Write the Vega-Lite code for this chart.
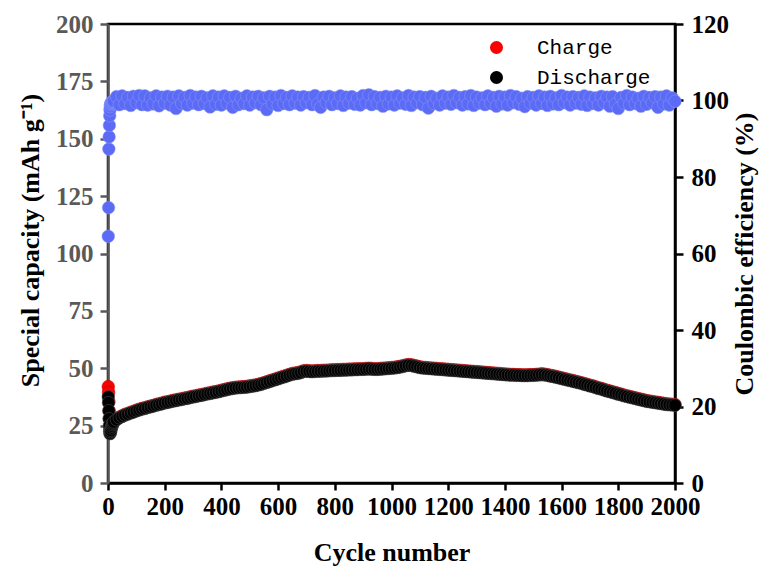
{
"$schema": "https://vega.github.io/schema/vega-lite/v6.json",
"width": 567, "height": 459,
"autosize": "none",
"padding": {"left": 108, "top": 24, "right": 93, "bottom": 87},
"background": "white",
"config": {"view": {"stroke": "black", "strokeWidth": 2.5}, "font": "Liberation Serif"},
"data": {"values": [
{"c":1,"ch":42.0,"d":37.5,"ce":64.5},
{"c":2,"ch":39.5,"d":35.0,"ce":72.0},
{"c":3,"ch":35.5,"d":31.5,"ce":87.3},
{"c":4,"ch":31.5,"d":28.0,"ce":90.5},
{"c":5,"ch":28.0,"d":25.0,"ce":93.5},
{"c":6,"ch":25.0,"d":22.5,"ce":96.0},
{"c":7,"ch":23.5,"d":21.5,"ce":97.5},
{"c":8,"ch":23.0,"d":21.8,"ce":98.4},
{"c":9,"ch":23.2,"d":22.4,"ce":98.9},
{"c":10,"ch":23.6,"d":23.0,"ce":99.2},
{"c":12,"ch":24.4,"d":24.0,"ce":99.4},
{"c":14,"ch":25.2,"d":24.8,"ce":99.6},
{"c":16,"ch":25.9,"d":25.5,"ce":99.7},
{"c":18,"ch":26.4,"d":26.1,"ce":99.8},
{"c":20,"ch":26.9,"d":26.6,"ce":99.8},
{"c":30,"ch":27.9,"d":27.6,"ce":101.0},
{"c":40,"ch":28.7,"d":28.4,"ce":98.9},
{"c":50,"ch":29.3,"d":29.0,"ce":101.2},
{"c":60,"ch":29.9,"d":29.6,"ce":99.2},
{"c":70,"ch":30.3,"d":30.0,"ce":100.8},
{"c":80,"ch":30.8,"d":30.5,"ce":98.7},
{"c":90,"ch":31.2,"d":30.9,"ce":101.1},
{"c":100,"ch":31.7,"d":31.4,"ce":99.4},
{"c":110,"ch":32.1,"d":31.8,"ce":101.3},
{"c":120,"ch":32.5,"d":32.2,"ce":98.9},
{"c":130,"ch":32.8,"d":32.5,"ce":101.2},
{"c":140,"ch":33.2,"d":32.9,"ce":98.8},
{"c":150,"ch":33.5,"d":33.2,"ce":100.7},
{"c":160,"ch":33.8,"d":33.5,"ce":99.1},
{"c":170,"ch":34.2,"d":33.9,"ce":101.2},
{"c":180,"ch":34.5,"d":34.2,"ce":98.6},
{"c":190,"ch":34.8,"d":34.5,"ce":100.9},
{"c":200,"ch":35.2,"d":34.9,"ce":99.3},
{"c":210,"ch":35.4,"d":35.1,"ce":101.1},
{"c":220,"ch":35.7,"d":35.4,"ce":98.8},
{"c":230,"ch":36.0,"d":35.7,"ce":100.9},
{"c":240,"ch":36.2,"d":35.9,"ce":97.9},
{"c":250,"ch":36.5,"d":36.2,"ce":101.2},
{"c":260,"ch":36.7,"d":36.4,"ce":99.2},
{"c":270,"ch":37.0,"d":36.7,"ce":100.8},
{"c":280,"ch":37.2,"d":36.9,"ce":98.8},
{"c":290,"ch":37.5,"d":37.2,"ce":101.3},
{"c":300,"ch":37.8,"d":37.5,"ce":99.3},
{"c":310,"ch":38.0,"d":37.7,"ce":100.9},
{"c":320,"ch":38.3,"d":38.0,"ce":98.9},
{"c":330,"ch":38.5,"d":38.2,"ce":101.1},
{"c":340,"ch":38.8,"d":38.5,"ce":99.2},
{"c":350,"ch":39.1,"d":38.8,"ce":100.7},
{"c":360,"ch":39.3,"d":39.0,"ce":98.3},
{"c":370,"ch":39.6,"d":39.3,"ce":101.2},
{"c":380,"ch":39.8,"d":39.5,"ce":99.0},
{"c":390,"ch":40.1,"d":39.8,"ce":100.9},
{"c":400,"ch":40.4,"d":40.1,"ce":98.8},
{"c":410,"ch":40.7,"d":40.4,"ce":101.2},
{"c":420,"ch":41.0,"d":40.7,"ce":99.3},
{"c":430,"ch":41.3,"d":41.0,"ce":100.8},
{"c":440,"ch":41.5,"d":41.2,"ce":98.2},
{"c":450,"ch":41.7,"d":41.4,"ce":101.1},
{"c":460,"ch":41.8,"d":41.5,"ce":98.9},
{"c":470,"ch":41.9,"d":41.6,"ce":100.6},
{"c":480,"ch":42.0,"d":41.7,"ce":99.2},
{"c":490,"ch":42.1,"d":41.8,"ce":101.2},
{"c":500,"ch":42.3,"d":42.0,"ce":98.8},
{"c":510,"ch":42.5,"d":42.2,"ce":100.9},
{"c":520,"ch":42.7,"d":42.4,"ce":99.4},
{"c":530,"ch":43.0,"d":42.7,"ce":101.1},
{"c":540,"ch":43.3,"d":43.0,"ce":98.9},
{"c":550,"ch":43.7,"d":43.4,"ce":100.7},
{"c":560,"ch":44.1,"d":43.8,"ce":97.6},
{"c":570,"ch":44.5,"d":44.2,"ce":101.1},
{"c":580,"ch":44.9,"d":44.6,"ce":99.1},
{"c":590,"ch":45.3,"d":45.0,"ce":100.9},
{"c":600,"ch":45.7,"d":45.4,"ce":98.7},
{"c":610,"ch":46.1,"d":45.8,"ce":101.3},
{"c":620,"ch":46.5,"d":46.2,"ce":99.2},
{"c":630,"ch":46.9,"d":46.6,"ce":100.8},
{"c":640,"ch":47.3,"d":47.0,"ce":98.9},
{"c":650,"ch":47.7,"d":47.4,"ce":101.2},
{"c":660,"ch":47.9,"d":47.6,"ce":99.3},
{"c":670,"ch":48.1,"d":47.8,"ce":100.9},
{"c":680,"ch":48.4,"d":48.1,"ce":98.8},
{"c":690,"ch":48.9,"d":48.6,"ce":101.0},
{"c":700,"ch":49.0,"d":48.7,"ce":99.4},
{"c":710,"ch":48.9,"d":48.6,"ce":100.8},
{"c":720,"ch":48.8,"d":48.5,"ce":98.9},
{"c":730,"ch":48.9,"d":48.6,"ce":101.3},
{"c":740,"ch":49.0,"d":48.7,"ce":99.1},
{"c":750,"ch":49.0,"d":48.7,"ce":98.2},
{"c":760,"ch":49.1,"d":48.8,"ce":100.9},
{"c":770,"ch":49.1,"d":48.8,"ce":99.5},
{"c":780,"ch":49.2,"d":48.9,"ce":101.1},
{"c":790,"ch":49.3,"d":49.0,"ce":98.9},
{"c":800,"ch":49.3,"d":49.0,"ce":100.7},
{"c":810,"ch":49.4,"d":49.1,"ce":99.2},
{"c":820,"ch":49.4,"d":49.1,"ce":101.2},
{"c":830,"ch":49.5,"d":49.2,"ce":98.7},
{"c":840,"ch":49.5,"d":49.2,"ce":100.9},
{"c":850,"ch":49.6,"d":49.3,"ce":99.3},
{"c":860,"ch":49.6,"d":49.3,"ce":101.0},
{"c":870,"ch":49.7,"d":49.4,"ce":99.0},
{"c":880,"ch":49.7,"d":49.4,"ce":100.6},
{"c":890,"ch":49.8,"d":49.5,"ce":98.8},
{"c":900,"ch":49.8,"d":49.5,"ce":101.3},
{"c":910,"ch":49.9,"d":49.6,"ce":99.4},
{"c":920,"ch":50.0,"d":49.7,"ce":101.5},
{"c":930,"ch":49.9,"d":49.6,"ce":98.9},
{"c":940,"ch":49.8,"d":49.5,"ce":101.0},
{"c":950,"ch":49.8,"d":49.5,"ce":99.2},
{"c":960,"ch":49.9,"d":49.6,"ce":100.8},
{"c":970,"ch":50.0,"d":49.7,"ce":98.5},
{"c":980,"ch":50.1,"d":49.8,"ce":101.1},
{"c":990,"ch":50.2,"d":49.9,"ce":99.1},
{"c":1000,"ch":50.3,"d":50.0,"ce":100.9},
{"c":1010,"ch":50.4,"d":50.1,"ce":98.8},
{"c":1020,"ch":50.6,"d":50.3,"ce":101.2},
{"c":1030,"ch":50.8,"d":50.5,"ce":99.3},
{"c":1040,"ch":51.1,"d":50.8,"ce":100.7},
{"c":1050,"ch":51.4,"d":51.1,"ce":99.0},
{"c":1060,"ch":51.6,"d":51.3,"ce":101.3},
{"c":1070,"ch":51.5,"d":51.2,"ce":98.7},
{"c":1080,"ch":51.2,"d":50.9,"ce":100.9},
{"c":1090,"ch":50.9,"d":50.6,"ce":99.4},
{"c":1100,"ch":50.6,"d":50.3,"ce":101.0},
{"c":1110,"ch":50.4,"d":50.1,"ce":98.9},
{"c":1120,"ch":50.3,"d":50.0,"ce":100.8},
{"c":1130,"ch":50.2,"d":49.9,"ce":98.0},
{"c":1140,"ch":50.1,"d":49.8,"ce":101.1},
{"c":1150,"ch":50.0,"d":49.7,"ce":99.2},
{"c":1160,"ch":49.9,"d":49.6,"ce":100.6},
{"c":1170,"ch":49.8,"d":49.5,"ce":98.8},
{"c":1180,"ch":49.7,"d":49.4,"ce":101.2},
{"c":1190,"ch":49.6,"d":49.3,"ce":99.3},
{"c":1200,"ch":49.5,"d":49.2,"ce":100.9},
{"c":1210,"ch":49.4,"d":49.1,"ce":99.0},
{"c":1220,"ch":49.3,"d":49.0,"ce":101.3},
{"c":1230,"ch":49.2,"d":48.9,"ce":99.4},
{"c":1240,"ch":49.1,"d":48.8,"ce":100.8},
{"c":1250,"ch":49.0,"d":48.7,"ce":98.8},
{"c":1260,"ch":48.9,"d":48.6,"ce":101.0},
{"c":1270,"ch":48.8,"d":48.5,"ce":99.1},
{"c":1280,"ch":48.7,"d":48.4,"ce":101.3},
{"c":1290,"ch":48.6,"d":48.3,"ce":98.7},
{"c":1300,"ch":48.5,"d":48.2,"ce":100.9},
{"c":1310,"ch":48.4,"d":48.1,"ce":99.3},
{"c":1320,"ch":48.3,"d":48.0,"ce":100.7},
{"c":1330,"ch":48.2,"d":47.9,"ce":98.9},
{"c":1340,"ch":48.1,"d":47.8,"ce":101.2},
{"c":1350,"ch":48.0,"d":47.7,"ce":99.2},
{"c":1360,"ch":47.9,"d":47.6,"ce":100.8},
{"c":1370,"ch":47.8,"d":47.5,"ce":98.5},
{"c":1380,"ch":47.7,"d":47.4,"ce":101.1},
{"c":1390,"ch":47.6,"d":47.3,"ce":99.1},
{"c":1400,"ch":47.5,"d":47.2,"ce":100.9},
{"c":1410,"ch":47.4,"d":47.1,"ce":98.8},
{"c":1420,"ch":47.3,"d":47.0,"ce":101.3},
{"c":1430,"ch":47.3,"d":47.0,"ce":99.4},
{"c":1440,"ch":47.2,"d":46.9,"ce":101.0},
{"c":1450,"ch":47.2,"d":46.9,"ce":99.0},
{"c":1460,"ch":47.1,"d":46.8,"ce":100.6},
{"c":1470,"ch":47.1,"d":46.8,"ce":98.4},
{"c":1480,"ch":47.1,"d":46.8,"ce":101.0},
{"c":1490,"ch":47.2,"d":46.9,"ce":99.3},
{"c":1500,"ch":47.2,"d":46.9,"ce":100.8},
{"c":1510,"ch":47.3,"d":47.0,"ce":98.8},
{"c":1520,"ch":47.4,"d":47.1,"ce":101.2},
{"c":1530,"ch":47.6,"d":47.2,"ce":99.2},
{"c":1540,"ch":47.4,"d":47.1,"ce":100.9},
{"c":1550,"ch":47.2,"d":46.9,"ce":98.7},
{"c":1560,"ch":46.9,"d":46.6,"ce":101.1},
{"c":1570,"ch":46.7,"d":46.4,"ce":99.1},
{"c":1580,"ch":46.4,"d":46.1,"ce":100.7},
{"c":1590,"ch":46.1,"d":45.8,"ce":98.9},
{"c":1600,"ch":45.8,"d":45.5,"ce":101.3},
{"c":1610,"ch":45.5,"d":45.2,"ce":99.4},
{"c":1620,"ch":45.2,"d":44.9,"ce":100.9},
{"c":1630,"ch":44.9,"d":44.6,"ce":98.8},
{"c":1640,"ch":44.6,"d":44.3,"ce":101.0},
{"c":1650,"ch":44.3,"d":44.0,"ce":99.3},
{"c":1660,"ch":44.0,"d":43.7,"ce":100.8},
{"c":1670,"ch":43.7,"d":43.4,"ce":99.0},
{"c":1680,"ch":43.3,"d":43.0,"ce":101.2},
{"c":1690,"ch":43.0,"d":42.7,"ce":98.7},
{"c":1700,"ch":42.6,"d":42.3,"ce":100.9},
{"c":1710,"ch":42.3,"d":42.0,"ce":99.2},
{"c":1720,"ch":41.9,"d":41.6,"ce":100.7},
{"c":1730,"ch":41.5,"d":41.2,"ce":98.8},
{"c":1740,"ch":41.2,"d":40.9,"ce":101.1},
{"c":1750,"ch":40.8,"d":40.5,"ce":99.4},
{"c":1760,"ch":40.4,"d":40.1,"ce":100.9},
{"c":1770,"ch":40.1,"d":39.8,"ce":98.5},
{"c":1780,"ch":39.7,"d":39.4,"ce":101.0},
{"c":1790,"ch":39.4,"d":39.1,"ce":99.1},
{"c":1800,"ch":39.0,"d":38.7,"ce":97.9},
{"c":1810,"ch":38.7,"d":38.4,"ce":100.8},
{"c":1820,"ch":38.3,"d":38.0,"ce":99.3},
{"c":1830,"ch":38.0,"d":37.7,"ce":101.3},
{"c":1840,"ch":37.7,"d":37.4,"ce":98.9},
{"c":1850,"ch":37.4,"d":37.1,"ce":100.9},
{"c":1860,"ch":37.1,"d":36.8,"ce":99.2},
{"c":1870,"ch":36.8,"d":36.5,"ce":100.6},
{"c":1880,"ch":36.5,"d":36.2,"ce":98.5},
{"c":1890,"ch":36.2,"d":35.9,"ce":101.1},
{"c":1900,"ch":35.9,"d":35.6,"ce":99.0},
{"c":1910,"ch":35.7,"d":35.4,"ce":100.8},
{"c":1920,"ch":35.5,"d":35.2,"ce":99.4},
{"c":1930,"ch":35.3,"d":35.0,"ce":101.0},
{"c":1940,"ch":35.1,"d":34.8,"ce":98.2},
{"c":1950,"ch":34.9,"d":34.6,"ce":100.9},
{"c":1960,"ch":34.7,"d":34.4,"ce":99.1},
{"c":1970,"ch":34.5,"d":34.2,"ce":101.2},
{"c":1980,"ch":34.4,"d":34.1,"ce":98.8},
{"c":1990,"ch":34.3,"d":34.0,"ce":100.7},
{"c":2000,"ch":34.2,"d":33.9,"ce":99.8}
]},
"layer": [
{
"layer": [
{
"mark": {"type": "point", "filled": true, "size": 160, "opacity": 1, "stroke": "#b00000", "strokeWidth": 0.5},
"encoding": {
"x": {"field": "c", "type": "quantitative", "scale": {"domain": [0, 2000], "nice": false},
"axis": {"title": "Cycle number", "format": "d", "values": [0,200,400,600,800,1000,1200,1400,1600,1800,2000], "grid": false, "domainColor": "black", "domainWidth": 2.5, "tickColor": "black", "tickWidth": 2.5, "tickSize": 7, "labelFont": "Liberation Serif", "labelFontWeight": "bold", "labelFontSize": 25, "labelColor": "black", "labelPadding": 4, "labelFlush": false, "labelOverlap": false, "titleFont": "Liberation Serif", "titleFontSize": 26, "titleFontWeight": "bold", "titleColor": "black", "titlePadding": 20}},
"y": {"field": "ch", "type": "quantitative", "scale": {"domain": [0, 200], "nice": false},
"axis": {"title": "Special capacity (mAh g⁻¹)", "titleY": 216, "format": "d", "values": [0,25,50,75,100,125,150,175,200], "grid": false, "domainColor": "#595959", "domainWidth": 2.5, "tickColor": "#595959", "tickWidth": 2.5, "tickSize": 8, "labelFont": "Liberation Serif", "labelFontWeight": "bold", "labelFontSize": 25, "labelColor": "#595959", "labelPadding": 7, "labelFlush": false, "labelOverlap": false, "titleFont": "Liberation Serif", "titleFontSize": 26, "titleFontWeight": "bold", "titleColor": "black", "titlePadding": 12}},
"color": {"datum": "Charge", "type": "nominal", "scale": {"domain": ["Charge", "Discharge"], "range": ["#ff0000", "#000000"]},
"legend": {"title": null, "orient": "none", "legendX": 378, "legendY": 13, "padding": 0, "labelFont": "Liberation Mono", "labelFontSize": 21, "labelColor": "black", "symbolSize": 170, "symbolType": "circle", "symbolStrokeWidth": 0, "labelOffset": 30, "rowPadding": 8}}
}
},
{
"mark": {"type": "point", "filled": true, "size": 160, "opacity": 1, "stroke": "#555555", "strokeWidth": 0.5},
"encoding": {
"x": {"field": "c", "type": "quantitative"},
"y": {"field": "d", "type": "quantitative",
"axis": {"title": "Special capacity (mAh g⁻¹)", "titleY": 216, "format": "d", "values": [0,25,50,75,100,125,150,175,200], "grid": false, "domainColor": "#595959", "domainWidth": 2.5, "tickColor": "#595959", "tickWidth": 2.5, "tickSize": 8, "labelFont": "Liberation Serif", "labelFontWeight": "bold", "labelFontSize": 25, "labelColor": "#595959", "labelPadding": 7, "labelFlush": false, "labelOverlap": false, "titleFont": "Liberation Serif", "titleFontSize": 26, "titleFontWeight": "bold", "titleColor": "black", "titlePadding": 12}},
"color": {"datum": "Discharge", "type": "nominal"}
}
}
]
},
{
"mark": {"type": "point", "filled": true, "size": 160, "opacity": 1, "color": "#5b6bf5", "stroke": "#8d99f8", "strokeWidth": 0.5},
"encoding": {
"x": {"field": "c", "type": "quantitative"},
"y": {"field": "ce", "type": "quantitative", "scale": {"domain": [0, 120], "nice": false},
"axis": {"orient": "right", "title": "Coulombic efficiency (%)", "titleAngle": 270, "format": "d", "values": [0,20,40,60,80,100,120], "grid": false, "domainColor": "black", "domainWidth": 2.5, "tickColor": "black", "tickWidth": 2.5, "tickSize": 8, "labelFont": "Liberation Serif", "labelFontWeight": "bold", "labelFontSize": 25, "labelColor": "black", "labelPadding": 8, "labelFlush": false, "labelOverlap": false, "titleFont": "Liberation Serif", "titleFontSize": 26, "titleFontWeight": "bold", "titleColor": "black", "titlePadding": 29}}
}
}
],
"resolve": {"scale": {"y": "independent"}}
}
